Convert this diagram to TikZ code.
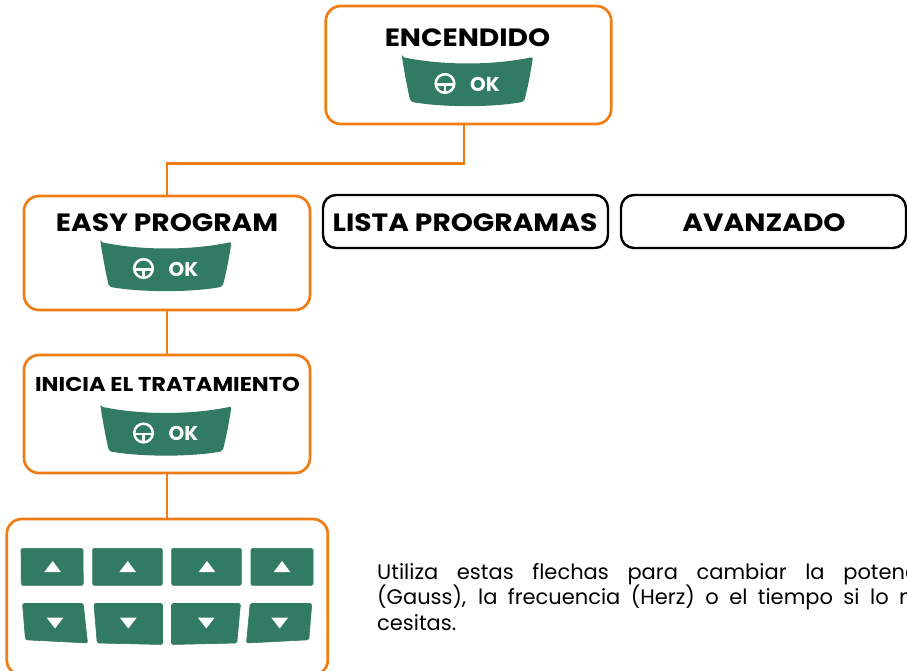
\documentclass[tikz,border=0pt]{standalone}
\usepackage{fontspec}
\setmainfont{Poppins}
\newfontfamily\titfont[FakeStretch=1.125]{Poppins}
\newcommand{\linea}[1]{\leavevmode\hbox to 560pt{\spaceskip=.25em plus 1fil\relax #1}}
\definecolor{naranja}{HTML}{F07D14}
\definecolor{verde}{HTML}{317A64}
\tikzset{
  x=1pt,y=-1pt,
  caja/.style={draw=naranja,line width=2.7pt,rounded corners=15pt,fill=white,inner sep=0pt,minimum width=#1},
  cajanegra/.style={draw=black,line width=2.4pt,rounded corners=13pt,fill=white,inner sep=0pt,minimum width=285pt,minimum height=53pt},
  conector/.style={draw=naranja,line width=2.7pt},
  titulo/.style={font=\titfont\bfseries\fontsize{25}{25}\selectfont,text=black,inner sep=0pt,text depth=0pt},
  tecla/.style={fill=verde,draw=verde,line width=0.6pt,rounded corners=1.5pt},
  flecha/.style={fill=white,draw=none},
  okbtn/.pic={
    \fill[verde,rounded corners=2pt] (-65.5,0) .. controls (-25,8.5) and (25,8.5) .. (65.5,0)
      .. controls (63,16) and (60,32) .. (56.5,44.7)
      .. controls (25,50.5) and (-25,50.5) .. (-57,44.7)
      .. controls (-60,32) and (-63,16) .. (-65.5,0) -- cycle;
    \draw[white,line width=2.5pt] (-22.5,26.5) circle (9.3);
    \draw[white,line width=2.5pt] (-32,27.5) -- (-13,27.5) (-22.5,27.5) -- (-22.5,36);
    \node[font=\bfseries\fontsize{20}{20}\selectfont,text=white,inner sep=0pt,text depth=0pt] (-ok) at (17.5,27) {OK};
  }
}
\begin{document}
\begin{tikzpicture}
\useasboundingbox (0,0) rectangle (907,671);
\begin{scope}
\clip (0,0) rectangle (907,671);
% cajas
\node[caja=285.5pt,minimum height=118pt] (enc) at (468.5,65) {};
\node[caja=286pt,minimum height=114pt] (easy) at (167,253) {};
\node[caja=286pt,minimum height=118pt] (ini) at (167,414) {};
\node[caja=321pt,minimum height=156pt] (fle) at (167.3,597) {};
\node[cajanegra] (lista) at (465.5,221.5) {};
\node[cajanegra] (avan) at (763.5,221.5) {};
% conectores
\coordinate (salida) at ([xshift=-4.5pt]enc.south);
\draw[conector] (salida) -- ++(0,38) -| (easy.north);
\draw[conector] (easy.south) -- (ini.north);
\draw[conector] (ini.south) -- (fle.north -| ini.south);
% titulos
\node[titulo] (t1) at (467.5,37.5) {ENCENDIDO};
\node[titulo] (t2) at (167,223) {EASY PROGRAM};
\node[titulo] (t3) at (465,223) {LISTA PROGRAMAS};
\node[titulo] (t4) at (764,223) {AVANZADO};
\node[titulo,font=\titfont\bfseries\fontsize{20}{20}\selectfont] (t5) at (167.5,384) {INICIA EL TRATAMIENTO};
% botones OK
\pic (o1) at (467.5,57) {okbtn};
\pic (o2) at (166,242) {okbtn};
\pic (o3) at (166,406.5) {okbtn};
% teclas superiores
\fill[tecla] (21,548.3) -- (83,548.3) -- (83.3,585.4) -- (21.3,585.4) -- cycle;
\fill[tecla] (92.6,548.3) -- (162.4,548.3) -- (162.4,585.4) -- (92.6,585.4) -- cycle;
\fill[tecla] (171.6,548.3) -- (241.4,548.3) -- (241.4,585.4) -- (171.6,585.4) -- cycle;
\fill[tecla] (251,548.3) -- (313,548.3) -- (313,585.4) -- (251,585.4) -- cycle;
\fill[flecha] (52.7,561) -- (61,572) -- (44.4,572) -- cycle;
\fill[flecha] (127.7,561) -- (136,572) -- (119.4,572) -- cycle;
\fill[flecha] (207,561) -- (215.3,572) -- (198.7,572) -- cycle;
\fill[flecha] (282,561) -- (290.3,572) -- (273.7,572) -- cycle;
% teclas inferiores
\fill[tecla] (22.5,603.5) -- (83.2,603.5) -- (87.5,643) -- (25.5,639.8) -- cycle;
\fill[tecla] (93.9,603.5) -- (162.5,603.5) -- (162.5,644.5) -- (97.2,643) -- cycle;
\fill[tecla] (171.5,603.5) -- (240.5,603.5) -- (236.8,643) -- (171.5,644.5) -- cycle;
\fill[tecla] (250.2,603.5) -- (311.8,603.5) -- (308.8,639.8) -- (246.5,643) -- cycle;
\fill[flecha] (55,628.5) -- (63.3,617.7) -- (46.7,617.7) -- cycle;
\fill[flecha] (128.3,628.5) -- (136.6,617.7) -- (120,617.7) -- cycle;
\fill[flecha] (206.3,628.5) -- (214.6,617.7) -- (198,617.7) -- cycle;
\fill[flecha] (279.7,628.5) -- (288,617.7) -- (271.4,617.7) -- cycle;
% nota
\node[anchor=north west,inner sep=0pt,align=left,text width=560pt,font=\fontsize{21}{25.7}\selectfont] (nota) at (377,563)
 {\linea{Utiliza estas flechas para cambiar la potencia}\\
  \linea{(Gauss), la frecuencia (Herz) o el tiempo si lo ne-}\\
  cesitas.};
\end{scope}
\end{tikzpicture}
\end{document}
